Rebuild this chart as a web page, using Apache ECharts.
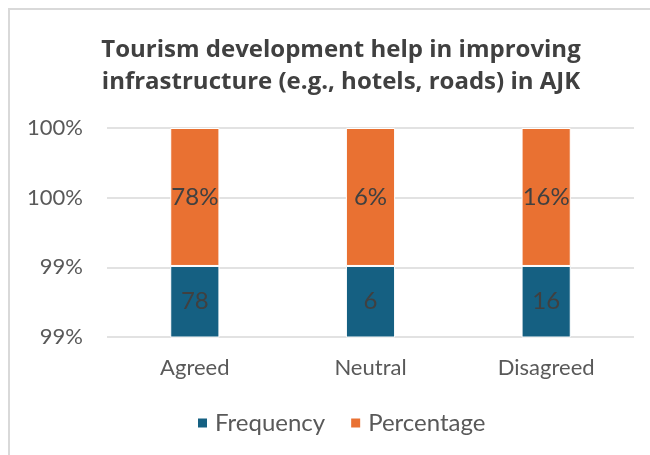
<!DOCTYPE html>
<html><head><meta charset="utf-8">
<script src="https://cdn.jsdelivr.net/npm/echarts@6/dist/echarts.min.js"></script>
<style>
html,body{margin:0;padding:0;background:#fff;}
#wrap{position:absolute;left:0;top:0;width:650px;height:455px;}
#frame{position:absolute;left:8px;top:8px;width:660px;height:460px;border-left:2px solid #d9d9d9;border-top:2px solid #d9d9d9;}
#c{position:absolute;left:0;top:0;width:650px;height:455px;}
</style></head>
<body><div id="wrap"><div id="frame"></div><div id="c"></div></div>
<script>
const titleLines = ['Tourism development help in improving', 'infrastructure (e.g., hotels, roads) in AJK'];
const categories = ['Agreed', 'Neutral', 'Disagreed'];
const frequency = [78, 6, 16];
const percentage = [0.78, 0.06, 0.16];
const seriesNames = ['Frequency', 'Percentage'];
const yMin = 98.5, yMax = 100, yStep = 0.5;

const totals = frequency.map((f, i) => f + percentage[i]);
const freqShare = frequency.map((f, i) => f / totals[i] * 100);
const pctShare = percentage.map((p, i) => p / totals[i] * 100);

const font = "Lato, 'Open Sans', sans-serif";
const chart = echarts.init(document.getElementById('c'), null, {renderer: 'canvas'});
chart.setOption({
  animation: false,
  backgroundColor: 'transparent',
  title: {
    text: titleLines.join('\n'),
    left: 336, top: 29, textAlign: 'center',
    textStyle: {fontFamily: "'Open Sans', sans-serif", fontSize: 24, fontWeight: 'bold', color: '#404040', lineHeight: 32}
  },
  legend: {
    data: seriesNames, top: 406, left: 191,
    itemWidth: 11, itemHeight: 11, itemGap: 24,
    icon: 'rect',
    textStyle: {fontFamily: font, fontSize: 24, color: '#595959', padding: [0, 0, 0, 2]}
  },
  grid: {left: 107, right: 16, top: 128, bottom: 118},
  xAxis: {
    type: 'category', data: categories,
    axisLine: {show: false}, axisTick: {show: false},
    axisLabel: {fontFamily: font, fontSize: 22, color: '#595959', margin: 20}
  },
  yAxis: {
    type: 'value', min: yMin, max: yMax, interval: yStep,
    axisLine: {show: false}, axisTick: {show: false},
    splitLine: {lineStyle: {color: '#d9d9d9', width: 1.5}},
    axisLabel: {fontFamily: font, fontSize: 22, color: '#595959', margin: 24,
      formatter: v => Math.round(v) + '%'}
  },
  series: [
    {
      name: seriesNames[0], type: 'bar', stack: 's', barWidth: '28%',
      data: freqShare,
      itemStyle: {color: '#156082', borderColor: '#fff', borderWidth: 1},
      label: {show: true, position: 'inside', fontFamily: font, fontSize: 24, color: '#404040',
        formatter: p => frequency[p.dataIndex]}
    },
    {
      name: seriesNames[1], type: 'bar', stack: 's', barWidth: '28%',
      data: pctShare,
      itemStyle: {color: '#E97132', borderColor: '#fff', borderWidth: 1},
      label: {show: true, position: 'inside', fontFamily: font, fontSize: 24, color: '#404040',
        formatter: p => Math.round(percentage[p.dataIndex] * 100) + '%'}
    }
  ]
});
</script></body></html>
